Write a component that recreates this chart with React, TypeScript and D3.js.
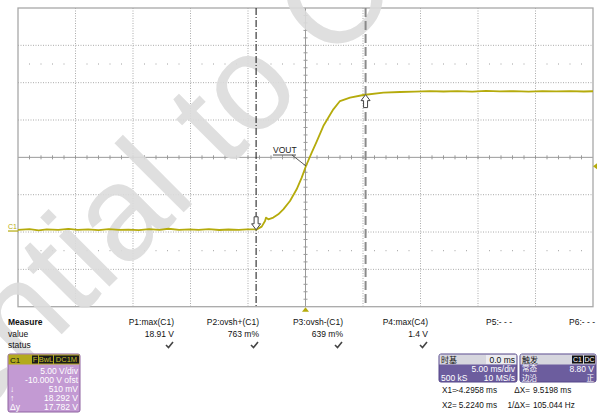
import React from "react";
import * as d3 from "d3";

// ---- data (time in ms, voltage in V) ----
const traceTime = [
  -25, -24, -23.2, -22.5, -21.5, -20.6, -19.8, -18.9, -18, -17.1, -16.2, -15.4, -14.5, -13.6,
  -12.7, -11.9, -11, -10.1, -9.3, -8.4, -7.5, -6.7, -5.8, -5.1, -4.6, -4.24, -3.81, -3.52,
  -3.43, -3.23, -2.8, -2.37, -1.93, -1.35, -0.77, -0.33, 0.04, 0.54, 0.97, 1.55, 2.42, 3.0,
  3.87, 5.03, 6.77, 8.22, 9.5, 10.8, 12, 13.2, 14.5, 15.7, 16.9, 18.1, 19.4, 20.6, 21.8,
  23, 24.2, 25,
];
const traceVolt = [
  0.3, 0.38, 0.22, 0.35, 0.28, 0.42, 0.3, 0.36, 0.25, 0.4, 0.3, 0.33, 0.26, 0.38,
  0.3, 0.44, 0.28, 0.35, 0.3, 0.38, 0.27, 0.34, 0.3, 0.36, 0.35, 0.36, 0.72, 1.47,
  1.93, 1.7, 1.93, 2.37, 3.04, 4.15, 5.72, 7.28, 8.84, 10.63, 12.1, 14.19, 16.43, 17.54,
  18.0, 18.35, 18.67, 18.75, 18.8, 18.86, 18.82, 18.88, 18.8, 18.9, 18.84, 18.86, 18.8,
  18.88, 18.83, 18.86, 18.82, 18.85,
];

const measureHeaders = ["P1:max(C1)", "P2:ovsh+(C1)", "P3:ovsh-(C1)", "P4:max(C4)", "P5:- - -", "P6:- - -"];
const measureValues = ["18.91 V", "763 m%", "639 m%", "1.4 V", "", ""];
const measureStatus = [true, true, true, true, false, false];

const c1Lines = ["5.00 V/div", "-10.000 V ofst", "510 mV", "18.292 V", "17.782 V"];
const c1LeftGlyphs = ["", "", "↓", "↑", "Δy"];
const c1Badges = ["F", "BwL", "DC1M"];

const cursor1 = -4.2958; // ms
const cursor2 = 5.224; // ms
const triggerLevel = 8.8; // V
const voutAt = { t: 0.04, v: 8.84 };

const cursorRows = [
  ["X1=", "-4.2958 ms", "ΔX=", "9.5198 ms"],
  ["X2=", "5.2240 ms", "1/ΔX=", "105.044 Hz"],
];

const FONT = "'Liberation Sans', Arial, sans-serif";
const CJK = "'Noto Sans CJK SC', 'Liberation Sans', sans-serif";

export default function App() {
  const W = 597, H = 416;
  const gx0 = 18, gx1 = 593, gy0 = 8, gy1 = 306.7;
  const x = d3.scaleLinear().domain([-25, 25]).range([gx0, gx1]);
  const y = d3.scaleLinear().domain([-10, 30]).range([gy1, gy0]);

  const majorT = d3.range(-20, 21, 5).filter((t) => t !== 0);
  const majorV = d3.range(-5, 26, 5).filter((v) => v !== 10);
  const minorTAll = d3.range(-24, 25, 1);
  const minorVAll = d3.range(-9, 30, 1);
  const dotRowsV = [22.5, -2.5];

  const data = traceTime.map((t, i) => ({ t, v: traceVolt[i] }));
  const line = d3.line<{ t: number; v: number }>().x((d) => x(d.t)).y((d) => y(d.v));

  const cx = x(0);
  const cy = y(10);
  const olive = "#b5ab0c";
  const gridCol = "#ababab";

  const c1x = x(cursor1);
  const c2x = x(cursor2);
  const arrowDown = "M0,0 L-4.5,-6 L-2,-6 L-2,-13 L2,-13 L2,-6 L4.5,-6 Z";
  const arrowUp = "M0,0 L-4.5,6 L-2,6 L-2,13 L2,13 L2,6 L4.5,6 Z";

  const colRight = [174, 259, 343, 428, 512, 595];

  return (
    <svg width={W} height={H} style={{ position: "absolute", left: 0, top: 0, background: "#fff" }}>
      <rect x={0} y={0} width={W} height={H} fill="#ffffff" />
      {/* grid */}
      {majorT.map((t) => (
        <line key={"gv" + t} x1={x(t)} x2={x(t)} y1={gy0} y2={gy1} stroke={gridCol} strokeDasharray="1,1.5" />
      ))}
      {majorV.map((v) => (
        <line key={"gh" + v} x1={gx0} x2={gx1} y1={y(v)} y2={y(v)} stroke={gridCol} strokeDasharray="1,1.5" />
      ))}
      {dotRowsV.map((v) =>
        minorTAll.filter((t) => t % 5 !== 0).map((t) => (
          <rect key={"dr" + v + "_" + t} x={x(t) - 0.5} y={y(v) - 0.5} width={1} height={1} fill="#a0a0a0" />
        ))
      )}
      {/* center axes */}
      <line x1={gx0} x2={gx1} y1={cy} y2={cy} stroke="#9a9a9a" />
      <line x1={cx} x2={cx} y1={gy0} y2={gy1} stroke="#9a9a9a" />
      {minorTAll.filter((t) => t !== 0).map((t) => (
        <line key={"tx" + t} x1={x(t)} x2={x(t)} y1={cy - 2} y2={cy + 2} stroke="#9a9a9a" />
      ))}
      {minorVAll.filter((v) => v !== 10).map((v) => (
        <line key={"ty" + v} x1={cx - 2} x2={cx + 2} y1={y(v)} y2={y(v)} stroke="#9a9a9a" />
      ))}
      <rect x={gx0} y={gy0} width={gx1 - gx0} height={gy1 - gy0} fill="none" stroke="#a8a8a8" strokeWidth={1.3} />

      {/* watermark */}
      <text
        transform="translate(400,-4) rotate(-45)"
        textAnchor="end"
        fontSize={135}
        fontFamily={FONT}
        fill="#dcdcdc"
        opacity={0.9}
      >
        Confidential to C
      </text>

      {/* cursors */}
      <line x1={c1x} x2={c1x} y1={gy0} y2={gy1} stroke="#111" strokeWidth={1} strokeDasharray="7,2,1,2" />
      <line x1={c2x} x2={c2x} y1={gy0} y2={gy1} stroke="#8a8a8a" strokeWidth={2} strokeDasharray="9,4" />

      {/* trace */}
      <path d={line(data) || ""} fill="none" stroke={olive} strokeWidth={1.8} strokeLinejoin="round" />

      {/* cursor arrows */}
      <path d={arrowDown} transform={`translate(${c1x},${y(0.3)})`} fill="#fff" stroke="#444" strokeWidth={1} />
      <path d={arrowUp} transform={`translate(${c2x},${y(18.4)})`} fill="#fff" stroke="#444" strokeWidth={1} />

      {/* VOUT label */}
      <text x={273} y={153} fontSize={8.5} fontFamily={FONT} fill="#222">VOUT</text>
      <line x1={273} x2={296} y1={155} y2={155} stroke="#222" strokeWidth={0.8} />
      <line x1={292} x2={x(voutAt.t)} y1={155} y2={y(voutAt.v)} stroke="#333" strokeWidth={0.8} />

      {/* ground marker C1 */}
      <text x={8} y={229} fontSize={7} fontFamily={FONT} fill={olive}>C1</text>
      <line x1={8} x2={gx0} y1={y(0) - 1} y2={y(0) - 1} stroke={olive} strokeWidth={1.2} />

      {/* trigger markers */}
      <path d={`M${gx1},${y(triggerLevel)} L${W},${y(triggerLevel) - 3} L${W},${y(triggerLevel) + 3} Z`} fill={olive} />
      <path d={`M${cx},${gy1 + 0.5} L${cx - 3.5},${gy1 + 5} L${cx + 3.5},${gy1 + 5} Z`} fill={olive} />

      {/* measure table */}
      <text x={8} y={325} fontSize={8.5} fontWeight="bold" fontFamily={FONT} fill="#111">Measure</text>
      <text x={8} y={336.5} fontSize={8.5} fontFamily={FONT} fill="#111">value</text>
      <text x={8} y={348} fontSize={8.5} fontFamily={FONT} fill="#111">status</text>
      {measureHeaders.map((h, i) => (
        <g key={"m" + i}>
          <text x={colRight[i]} y={325} textAnchor="end" fontSize={8.5} fontFamily={FONT} fill="#111">{h}</text>
          <text x={colRight[i]} y={336.5} textAnchor="end" fontSize={8.5} fontFamily={FONT} fill="#111">{measureValues[i]}</text>
          {measureStatus[i] && (
            <path
              d={`M${colRight[i] - 8},${345} L${colRight[i] - 5.5},${347.5} L${colRight[i] - 1},${342}`}
              fill="none"
              stroke="#444"
              strokeWidth={1.6}
            />
          )}
        </g>
      ))}

      {/* C1 info box */}
      <rect x={8} y={354} width={72} height={58} rx={2} fill="#c39ad3" stroke="#8e63a0" strokeWidth={1} />
      <rect x={8.5} y={354.5} width={71} height={10} fill="#b3aa1c" />
      <text x={10} y={362.5} fontSize={8} fontFamily={FONT} fill="#111">C1</text>
      {(() => {
        const widths = [6, 14, 25];
        let bx = 32;
        return c1Badges.map((b, i) => {
          const el = (
            <g key={"b" + i}>
              <rect x={bx} y={355.5} width={widths[i]} height={8} fill="#1a1a1a" />
              <text x={bx + widths[i] / 2} y={362.3} textAnchor="middle" fontSize={7.5} fontFamily={FONT} fill="#c9c02a">{b}</text>
            </g>
          );
          bx += widths[i] + 1;
          return el;
        });
      })()}
      {c1Lines.map((s, i) => (
        <g key={"c1l" + i}>
          <text x={78} y={373.5 + i * 9.1} textAnchor="end" fontSize={8.5} fontFamily={FONT} fill="#fff">{s}</text>
          {c1LeftGlyphs[i] && (
            <text x={10} y={373.5 + i * 9.1} fontSize={8.5} fontFamily={FONT} fill="#fff">{c1LeftGlyphs[i]}</text>
          )}
        </g>
      ))}

      {/* timebase box */}
      <rect x={439} y={354} width={78} height={28} rx={2} fill="#6c5d9e" stroke="#54478a" />
      <rect x={439.5} y={354.5} width={77} height={10} fill="#d6d6de" />
      <rect x={486} y={355} width={30} height={9} fill="#ececf0" />
      <text x={441} y={362.5} fontSize={8} fontFamily={CJK} fill="#111">时基</text>
      <text x={515} y={362.5} textAnchor="end" fontSize={8.5} fontFamily={FONT} fill="#111">0.0 ms</text>
      <text x={515} y={371.5} textAnchor="end" fontSize={8.5} fontFamily={FONT} fill="#fff">5.00 ms/div</text>
      <text x={441} y={380.5} fontSize={8.5} fontFamily={FONT} fill="#fff">500 kS</text>
      <text x={515} y={380.5} textAnchor="end" fontSize={8.5} fontFamily={FONT} fill="#fff">10 MS/s</text>

      {/* trigger box */}
      <rect x={520} y={354} width={76} height={28} rx={2} fill="#6c5d9e" stroke="#54478a" />
      <rect x={520.5} y={354.5} width={75} height={10} fill="#d6d6de" />
      <text x={522} y={362.5} fontSize={8} fontFamily={CJK} fill="#111">触发</text>
      <rect x={572} y={355.5} width={11} height={8} fill="#111" />
      <text x={577.5} y={362.3} textAnchor="middle" fontSize={7} fontFamily={FONT} fill="#fff">C1</text>
      <rect x={584} y={355.5} width={11} height={8} fill="#111" />
      <text x={589.5} y={362.3} textAnchor="middle" fontSize={7} fontFamily={FONT} fill="#fff">DC</text>
      <text x={522} y={371.3} fontSize={7.6} fontFamily={CJK} fill="#fff">常态</text>
      <text x={594} y={371.5} textAnchor="end" fontSize={8.5} fontFamily={FONT} fill="#fff">8.80 V</text>
      <text x={522} y={381} fontSize={7.6} fontFamily={CJK} fill="#fff">边沿</text>
      <text x={594} y={381} textAnchor="end" fontSize={7.6} fontFamily={CJK} fill="#fff">正</text>

      {/* cursor readouts */}
      {cursorRows.map((r, i) => (
        <g key={"cr" + i}>
          <text x={442} y={393 + i * 15} fontSize={8.2} fontFamily={FONT} fill="#111">{r[0]}</text>
          <text x={497} y={393 + i * 15} textAnchor="end" fontSize={8.2} fontFamily={FONT} fill="#111">{r[1]}</text>
          <text x={530} y={393 + i * 15} textAnchor="end" fontSize={8.2} fontFamily={FONT} fill="#111">{r[2]}</text>
          <text x={533} y={393 + i * 15} fontSize={8.2} fontFamily={FONT} fill="#111">{r[3]}</text>
        </g>
      ))}
    </svg>
  );
}
